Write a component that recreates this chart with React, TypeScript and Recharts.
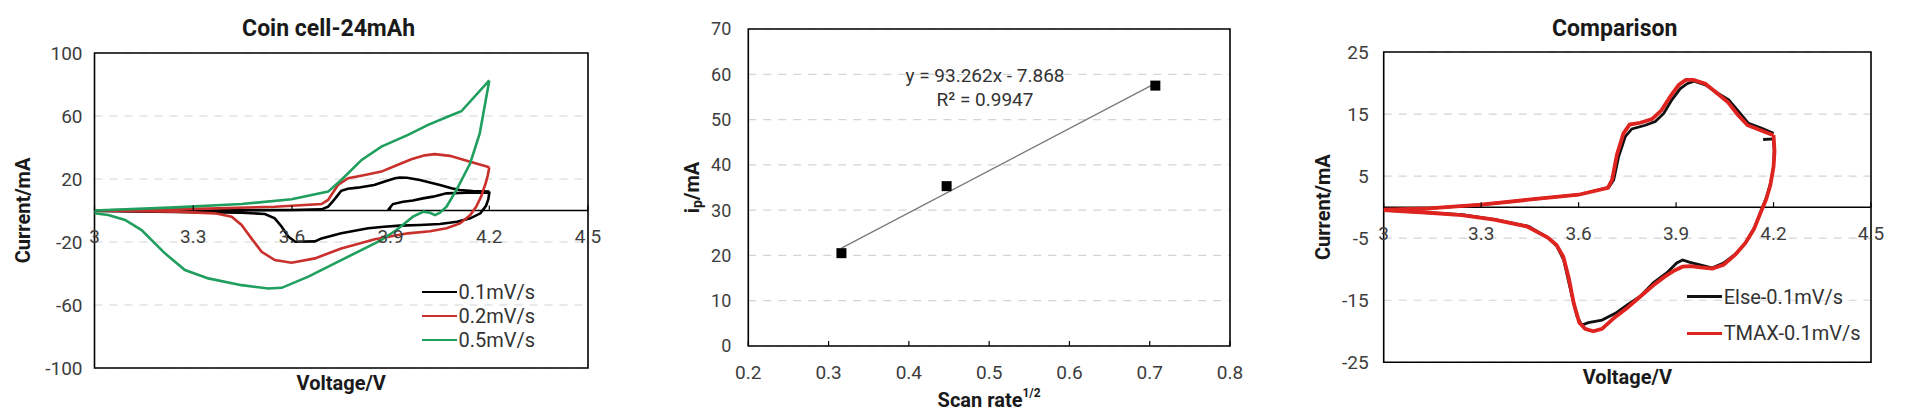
import React from 'react';
import {
  LineChart, Line, ComposedChart, Scatter, XAxis, YAxis, CartesianGrid,
  ReferenceArea, ReferenceLine, Legend, Label,
} from 'recharts';

// ---------- data (voltage V, current mA) ----------
const cvVoltageTicks = [3, 3.3, 3.6, 3.9, 4.2, 4.5];
const coinCurrentTicks = [-100, -60, -20, 20, 60, 100];
const compareCurrentTicks = [-25, -15, -5, 5, 15, 25];

const coin01: [number, number][] = [
  [3.892, 0.3], [3.907, 4.1], [3.938, 5.6], [3.968, 6.3], [3.998, 7.7], [4.029, 8.8], [4.07, 10.9],
  [4.131, 11.3], [4.2, 11.3], [4.197, 7], [4.19, 3], [4.173, -1.8], [4.142, -5], [4.102, -7.1],
  [4.05, -8.6], [3.989, -9.2], [3.928, -9.6], [3.88, -10.3], [3.832, -11.3], [3.75, -14.5],
  [3.69, -17.7], [3.67, -19.6], [3.61, -19.8], [3.589, -16.6], [3.569, -10.3], [3.548, -5],
  [3.518, -2.2], [3.447, -1.4], [3.245, -1], [3.0, -0.3],
  [3.0, 0], [3.3, 0.2], [3.6, 0.3], [3.69, 0.7], [3.71, 2.4], [3.725, 6], [3.736, 8.8], [3.75, 12.5],
  [3.77, 13.8], [3.8, 14.5], [3.85, 16.2], [3.88, 18.3], [3.913, 20.5], [3.928, 20.9], [3.95, 20.8],
  [3.989, 19.4], [4.05, 16.2], [4.085, 14.1], [4.11, 13], [4.15, 12.4], [4.2, 12],
];

const coin02: [number, number][] = [
  [4.2, 27.5], [4.195, 22], [4.189, 17.3], [4.175, 8.8], [4.16, 2.4], [4.142, -2.9], [4.111, -8.2],
  [4.07, -11.3], [4.02, -13.2], [3.953, -14.5], [3.852, -18.3], [3.75, -24.1], [3.67, -30.4],
  [3.599, -33.2], [3.548, -31.5], [3.508, -26.2], [3.477, -17.7], [3.447, -9.2], [3.417, -3.9],
  [3.366, -1.8], [3.245, -0.7], [3.0, 0],
  [3.0, 0], [3.346, 1.2], [3.548, 2.4], [3.69, 4.1], [3.71, 6.7], [3.74, 16.2], [3.771, 20.5],
  [3.822, 22.6], [3.872, 24.7], [3.913, 28.3], [3.963, 32.5], [4.004, 35], [4.034, 35.8],
  [4.08, 34.7], [4.142, 31], [4.2, 27.5],
];

const coin05: [number, number][] = [
  [4.2, 82.6], [4.171, 49], [4.142, 30], [4.1, 13], [4.07, 2.4], [4.05, -1.4], [4.035, -2.9],
  [4.02, -1.4], [4.0, -0.7], [3.968, -3.9], [3.918, -12.4], [3.87, -19], [3.75, -31.5],
  [3.65, -42], [3.569, -49.1], [3.528, -49.5], [3.447, -47.4], [3.346, -43.1], [3.275, -37.8],
  [3.214, -27.2], [3.143, -12.4], [3.093, -6], [3.042, -2.9], [3.0, -1.8],
  [3.0, 0], [3.245, 2], [3.447, 4.1], [3.599, 7.1], [3.71, 12], [3.75, 19.4], [3.812, 32.1],
  [3.872, 40.6], [3.953, 48], [4.014, 54.4], [4.075, 59.7], [4.115, 63], [4.2, 82.6],
];

const elseCurve: [number, number][] = [
  [4.168, 10.9], [4.2, 11], [4.202, 9.2], [4.2, 6.5], [4.191, 3.9], [4.179, 1.7], [4.163, -0.4],
  [4.143, -3.1], [4.117, -5.5], [4.087, -7.4], [4.046, -9], [4.01, -9.8], [3.974, -9.3],
  [3.943, -8.9], [3.92, -8.5], [3.902, -9], [3.871, -10.6], [3.83, -12.2], [3.789, -14.4],
  [3.754, -15.6], [3.713, -17.1], [3.672, -18.2], [3.63, -18.6], [3.61, -19], [3.595, -17.6],
  [3.575, -13.3], [3.554, -8.5], [3.533, -6.3], [3.508, -5], [3.446, -3.1], [3.344, -2],
  [3.241, -1.2], [3.139, -0.9], [3.0, -0.5],
  [3.0, -0.4], [3.139, -0.2], [3.303, 0.4], [3.446, 1.2], [3.6, 2], [3.693, 3.2], [3.708, 4.4],
  [3.723, 8.1], [3.744, 11.4], [3.764, 12.6], [3.805, 13.2], [3.836, 13.8], [3.862, 15.1],
  [3.887, 17.3], [3.913, 19.1], [3.934, 19.9], [3.955, 20.3], [3.99, 19.7], [4.031, 18.3],
  [4.062, 17.3], [4.093, 15.4], [4.123, 13.5], [4.164, 12.7], [4.2, 11.9],
];

const tmaxCurve: [number, number][] = [
  [4.2, 11.6], [4.203, 9], [4.2, 6.5], [4.19, 3.5], [4.177, 1.2], [4.16, -0.9], [4.14, -3.5],
  [4.113, -5.8], [4.083, -7.6], [4.046, -9.3], [4.012, -9.9], [3.975, -9.7], [3.945, -9.5],
  [3.92, -9.6], [3.895, -10.2], [3.865, -11.2], [3.83, -12.6], [3.79, -14.4], [3.75, -16.2],
  [3.71, -17.8], [3.672, -19.6], [3.645, -20], [3.62, -19.6], [3.602, -18.6], [3.585, -15.5],
  [3.57, -11.5], [3.553, -8], [3.532, -6.1], [3.505, -4.9], [3.44, -3.1], [3.34, -2],
  [3.24, -1.3], [3.14, -0.9], [3.0, -0.5],
  [3.0, -0.4], [3.14, -0.2], [3.3, 0.4], [3.446, 1.2], [3.6, 2], [3.69, 3.1], [3.703, 4.4],
  [3.718, 8.5], [3.738, 11.9], [3.757, 13.3], [3.79, 13.6], [3.826, 14.2], [3.855, 15.6],
  [3.882, 17.8], [3.908, 19.7], [3.93, 20.5], [3.953, 20.5], [3.99, 19.9], [4.03, 18.2],
  [4.06, 16.9], [4.09, 14.9], [4.12, 13.2], [4.16, 12.4], [4.2, 11.6],
];

// peak current vs sqrt(scan rate)
const scanRateRoot = [0.316, 0.447, 0.707];
const peakCurrent = [20.5, 35.3, 57.5];
const trendEnds: [number, number][] = [[0.316, 21.6], [0.707, 58.0]];
const rateTicks = [0.2, 0.3, 0.4, 0.5, 0.6, 0.7, 0.8];
const peakTicks = [0, 10, 20, 30, 40, 50, 60, 70];

const toPoints = (arr: [number, number][]) => arr.map(([v, i]) => ({ v, i }));
const peakPoints = scanRateRoot.map((x, k) => ({ x, y: peakCurrent[k] }));
const trendPoints = trendEnds.map(([x, y]) => ({ x, y }));

// ---------- styling ----------
const FONT = 'Roboto, "Noto Sans", sans-serif';
const TICK_COLOR = '#3d3d3d';
const GRID = { stroke: '#d4d4d4', strokeDasharray: '8 7', strokeWidth: 1.2 };

const ZeroTick = (props: any) => {
  const { x, payload, zeroY, fontSize } = props;
  return (
    <g>
      <line x1={x} x2={x} y1={zeroY} y2={zeroY - 5} stroke="#000" strokeWidth={1.2} />
      <text x={x} y={zeroY + 26} textAnchor="middle" dominantBaseline="central"
        fontSize={fontSize} fill={TICK_COLOR} fontFamily={FONT}>{payload.value}</text>
    </g>
  );
};

const VTitle = ({ cx, cy, children }: any) => (
  <text x={cx} y={cy} transform={`rotate(-90 ${cx} ${cy})`} textAnchor="middle"
    dominantBaseline="central" fontFamily={FONT} fontWeight={700} fontSize={20} fill="#1a1a1a">
    {children}
  </text>
);

const HTitle = ({ cx, cy, children }: any) => (
  <text x={cx} y={cy} textAnchor="middle" dominantBaseline="central"
    fontFamily={FONT} fontWeight={700} fontSize={20} fill="#1a1a1a">
    {children}
  </text>
);

const makeLegend = (rowH: number, widths: Record<string, number>) => ({ payload }: any) => (
  <div style={{ fontFamily: FONT, fontSize: 20, color: '#333' }}>
    {(payload || []).map((item: any) => (
      <div key={item.value} style={{ display: 'flex', alignItems: 'center', height: rowH }}>
        <span style={{ display: 'inline-block', width: 35, borderTop: `${widths[item.value] || 2.5}px solid ${item.color}`, marginRight: 2 }} />
        <span>{item.value}</span>
      </div>
    ))}
  </div>
);

const PageTitle = ({ x, y, children }: any) => (
  <div style={{ position: 'absolute', left: x, top: y, transform: 'translate(-50%, -50%)', lineHeight: 1,
    fontFamily: FONT, fontWeight: 700, fontSize: 23, color: '#1a1a1a', whiteSpace: 'nowrap' }}>
    {children}
  </div>
);

const SquareDot = (props: any) => (
  <rect x={props.cx - 5} y={props.cy - 5} width={10} height={10} fill="#000" />
);

// chart 1 layout
const C1 = { top: 53, bottom: 368, left: 94.5, right: 588, h: 415, w: 620 };
const C1_ZERO = C1.top + (C1.bottom - C1.top) / 2;
// chart 2 layout (page left 640)
const C2 = { top: 29, bottom: 346, left: 108.3, right: 590, h: 415, w: 620 };
// chart 3 layout (page left 1280)
const C3 = { top: 52, bottom: 362.3, left: 103.7, right: 591, h: 415, w: 640 };
const C3_ZERO = C3.top + (C3.bottom - C3.top) / 2;

function CoinCellChart() {
  return (
    <LineChart width={C1.w} height={C1.h}
      margin={{ top: C1.top, right: C1.w - C1.right, bottom: C1.h - C1.bottom - 30, left: 0 }}>
      <CartesianGrid vertical={false} {...GRID} />
      <XAxis type="number" dataKey="v" domain={[3, 4.5]} ticks={cvVoltageTicks} allowDataOverflow
        height={30} axisLine={false} tickLine={false}
        tick={(p: any) => <ZeroTick {...p} zeroY={C1_ZERO} fontSize={19} />}>
        <Label content={() => <HTitle cx={(C1.left + C1.right) / 2} cy={383}>Voltage/V</HTitle>} />
      </XAxis>
      <YAxis type="number" domain={[-100, 100]} ticks={coinCurrentTicks} allowDataOverflow
        width={C1.left} axisLine={false} tickLine={false} tickSize={0} tickMargin={12}
        tick={{ fontSize: 19, fill: TICK_COLOR, fontFamily: FONT }}>
        <Label content={() => <VTitle cx={22.5} cy={(C1.top + C1.bottom) / 2}>Current/mA</VTitle>} />
      </YAxis>
      <ReferenceLine y={0} stroke="#000" strokeWidth={1.5} />
      <Line data={toPoints(coin01)} dataKey="i" name="0.1mV/s" type="linear" stroke="#000000"
        strokeWidth={2.6} dot={false} isAnimationActive={false} />
      <Line data={toPoints(coin02)} dataKey="i" name="0.2mV/s" type="linear" stroke="#c9302c"
        strokeWidth={2.6} dot={false} isAnimationActive={false} />
      <Line data={toPoints(coin05)} dataKey="i" name="0.5mV/s" type="linear" stroke="#1f9e5e"
        strokeWidth={2.6} dot={false} isAnimationActive={false} />
      <ReferenceArea x1={3} x2={4.5} y1={-100} y2={100} fill="none" stroke="#000" strokeWidth={1.6} />
      <Legend layout="vertical" align="center" verticalAlign="middle"
        wrapperStyle={{ left: 421.5, top: 280, width: 'auto' }}
        content={makeLegend(24, { '0.1mV/s': 2.8, '0.2mV/s': 2.8, '0.5mV/s': 2.8 })} />
    </LineChart>
  );
}

function PeakChart() {
  return (
    <ComposedChart width={C2.w} height={C2.h}
      margin={{ top: C2.top, right: C2.w - C2.right, bottom: C2.h - C2.bottom - 30, left: 0 }}>
      <CartesianGrid vertical={false} {...GRID} />
      <XAxis type="number" dataKey="x" domain={[0.2, 0.8]} ticks={rateTicks} allowDataOverflow
        height={30} axisLine={false} tickLine={false}
        tick={(p: any) => <ZeroTick {...p} zeroY={C2.bottom} fontSize={19} />}>
        <Label content={() => (
          <HTitle cx={(C2.left + C2.right) / 2} cy={400}>
            Scan rate<tspan fontSize={12} dy={-7}>1/2</tspan>
          </HTitle>
        )} />
      </XAxis>
      <YAxis type="number" dataKey="y" domain={[0, 70]} ticks={peakTicks} allowDataOverflow
        width={C2.left} axisLine={false} tickLine={false} tickSize={0} tickMargin={17}
        tick={{ fontSize: 18, fill: TICK_COLOR, fontFamily: FONT }}>
        <Label content={() => (
          <VTitle cx={51.7} cy={(C2.top + C2.bottom) / 2}>
            i<tspan fontSize={14} dy={5}>p</tspan><tspan dy={-5}>/mA</tspan>
          </VTitle>
        )} />
      </YAxis>
      <Line data={trendPoints} dataKey="y" type="linear" stroke="#7a7a7a" strokeWidth={1.3}
        dot={false} isAnimationActive={false} legendType="none" />
      <Scatter data={peakPoints} dataKey="y" shape={SquareDot} isAnimationActive={false} />
      <ReferenceArea x1={0.2} x2={0.8} y1={0} y2={70} fill="none" stroke="#000" strokeWidth={1.6} />
    </ComposedChart>
  );
}

function ComparisonChart() {
  return (
    <LineChart width={C3.w} height={C3.h}
      margin={{ top: C3.top, right: C3.w - C3.right, bottom: C3.h - C3.bottom - 30, left: 0 }}>
      <CartesianGrid vertical={false} {...GRID} />
      <XAxis type="number" dataKey="v" domain={[3, 4.5]} ticks={cvVoltageTicks} allowDataOverflow
        height={30} axisLine={false} tickLine={false}
        tick={(p: any) => <ZeroTick {...p} zeroY={C3_ZERO} fontSize={19} />}>
        <Label content={() => <HTitle cx={(C3.left + C3.right) / 2} cy={376.7}>Voltage/V</HTitle>} />
      </XAxis>
      <YAxis type="number" domain={[-25, 25]} ticks={compareCurrentTicks} allowDataOverflow
        width={C3.left} axisLine={false} tickLine={false} tickSize={0} tickMargin={15}
        tick={{ fontSize: 19, fill: TICK_COLOR, fontFamily: FONT }}>
        <Label content={() => <VTitle cx={42.9} cy={(C3.top + C3.bottom) / 2}>Current/mA</VTitle>} />
      </YAxis>
      <ReferenceLine y={0} stroke="#000" strokeWidth={1.5} />
      <Line data={toPoints(elseCurve)} dataKey="i" name="Else-0.1mV/s" type="linear" stroke="#111111"
        strokeWidth={2.8} dot={false} isAnimationActive={false} />
      <Line data={toPoints(tmaxCurve)} dataKey="i" name="TMAX-0.1mV/s" type="linear" stroke="#df2420"
        strokeWidth={3.8} dot={false} isAnimationActive={false} />
      <ReferenceArea x1={3} x2={4.5} y1={-25} y2={25} fill="none" stroke="#000" strokeWidth={1.6} />
      <Legend layout="vertical" align="center" verticalAlign="middle"
        wrapperStyle={{ left: 406.7, top: 278.4, width: 'auto' }}
        content={makeLegend(36.6, { 'Else-0.1mV/s': 3, 'TMAX-0.1mV/s': 3.6 })} />
    </LineChart>
  );
}

export default function App() {
  return (
    <div style={{ position: 'fixed', left: 0, top: 0, width: 1920, height: 415, background: '#fff', overflow: 'hidden' }}>
      <div style={{ position: 'absolute', left: 0, top: 0 }}><CoinCellChart /></div>
      <div style={{ position: 'absolute', left: 640, top: 0 }}><PeakChart /></div>
      <div style={{ position: 'absolute', left: 1280, top: 0 }}><ComparisonChart /></div>
      <PageTitle x={328.6} y={28.3}>Coin cell-24mAh</PageTitle>
      <PageTitle x={1614.7} y={28.3}>Comparison</PageTitle>
      <div style={{ position: 'absolute', left: 985, top: 75, transform: 'translate(-50%, -50%)', lineHeight: 1,
        fontFamily: FONT, fontSize: 19, color: '#333', whiteSpace: 'nowrap' }}>y = 93.262x - 7.868</div>
      <div style={{ position: 'absolute', left: 985, top: 99, transform: 'translate(-50%, -50%)', lineHeight: 1,
        fontFamily: FONT, fontSize: 19, color: '#333', whiteSpace: 'nowrap' }}>R² = 0.9947</div>
    </div>
  );
}
